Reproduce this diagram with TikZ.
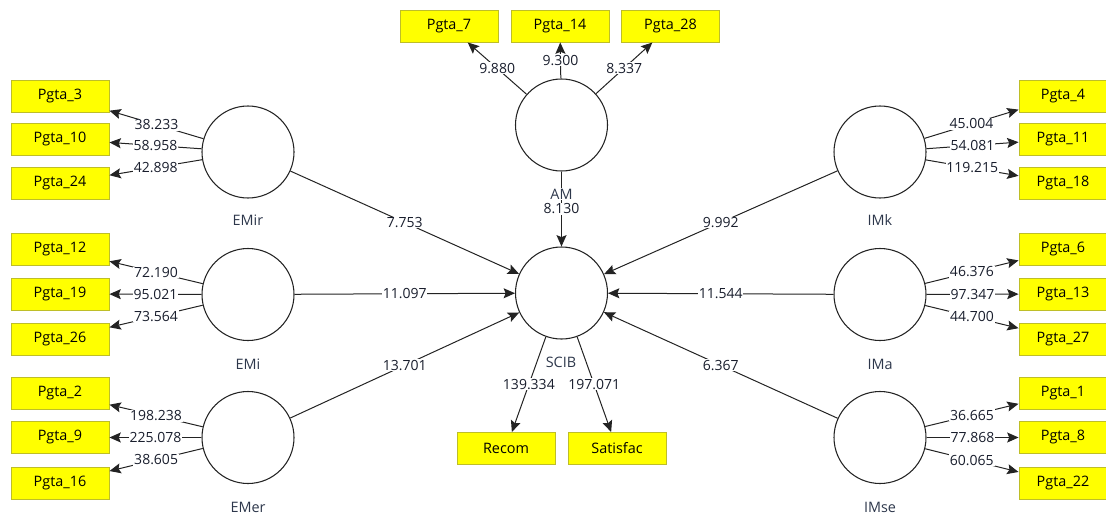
\documentclass[tikz,border=0pt]{standalone}
\usepackage{fontspec}
\setmainfont{Open Sans}
\usetikzlibrary{arrows.meta}
\definecolor{boxfill}{RGB}{255,255,0}
\definecolor{boxline}{RGB}{190,190,40}
\definecolor{edgecol}{RGB}{35,35,35}
\definecolor{numcol}{RGB}{25,30,45}
\definecolor{namecol}{RGB}{45,55,75}
\tikzset{
  lv/.style={circle, draw=edgecol, line width=0.8pt, fill=white, minimum size=69pt, inner sep=0pt},
  ind/.style={rectangle, draw=boxline, line width=0.7pt, fill=boxfill, minimum width=73.5pt, minimum height=24pt, inner sep=0pt, font=\fontsize{10.8}{12}\selectfont},
  indr/.style={ind, minimum width=66pt},
  arr/.style={draw=edgecol, line width=0.75pt, -{Stealth[length=8.5pt,width=7.5pt,inset=1.5pt]}},
  lab/.style={fill=white, inner sep=0.6pt, text=numcol, font=\fontsize{10.5}{11}\selectfont},
  nm/.style={text=namecol, inner sep=0.6pt, font=\fontsize{10.8}{12}\selectfont}
}
\begin{document}
\begin{tikzpicture}[x=0.75pt, y=-0.75pt]
\useasboundingbox (0,0) rectangle (1106,514);
% latent variables
\node[lv] (EMir) at (248,152) {};
\node[lv] (EMi) at (248,294.5) {};
\node[lv] (EMer) at (248,437.5) {};
\node[lv] (AM) at (561.5,125) {};
\node[lv] (SCIB) at (561.5,293) {};
\node[lv] (IMk) at (880,152) {};
\node[lv] (IMa) at (880,294.5) {};
\node[lv] (IMse) at (880,437.5) {};
% indicators left
\node[ind] (p3) at (60,96) {Pgta\_3};
\node[ind] (p10) at (60,139) {Pgta\_10};
\node[ind] (p24) at (60,183.5) {Pgta\_24};
\node[ind] (p12) at (60,249.5) {Pgta\_12};
\node[ind] (p19) at (60,294) {Pgta\_19};
\node[ind] (p26) at (60,339) {Pgta\_26};
\node[ind] (p2) at (60,393) {Pgta\_2};
\node[ind] (p9) at (60,437.5) {Pgta\_9};
\node[ind] (p16) at (60,483) {Pgta\_16};
% top
\node[ind] (p7) at (449,26) {Pgta\_7};
\node[ind] (p14) at (560,26) {Pgta\_14};
\node[ind] (p28) at (670.5,26) {Pgta\_28};
% bottom
\node[ind] (rec) at (506,448.5) {Recom};
\node[ind] (sat) at (617,448.5) {Satisfac};
% right
\node[indr] (p4) at (1063,96) {Pgta\_4};
\node[indr] (p11) at (1063,139) {Pgta\_11};
\node[indr] (p18) at (1063,183.5) {Pgta\_18};
\node[indr] (p6) at (1063,249.5) {Pgta\_6};
\node[indr] (p13) at (1063,294) {Pgta\_13};
\node[indr] (p27) at (1063,339) {Pgta\_27};
\node[indr] (p1) at (1063,393) {Pgta\_1};
\node[indr] (p8) at (1063,437.5) {Pgta\_8};
\node[indr] (p22) at (1063,483) {Pgta\_22};
% outer loadings
\draw[arr] (EMir) -- node[lab]{38.233} (p3);
\draw[arr] (EMir) -- node[lab]{58.958} (p10);
\draw[arr] (EMir) -- node[lab]{42.898} (p24);
\draw[arr] (EMi) -- node[lab]{72.190} (p12);
\draw[arr] (EMi) -- node[lab]{95.021} (p19);
\draw[arr] (EMi) -- node[lab]{73.564} (p26);
\draw[arr] (EMer) -- node[lab]{198.238} (p2);
\draw[arr] (EMer) -- node[lab]{225.078} (p9);
\draw[arr] (EMer) -- node[lab]{38.605} (p16);
\draw[arr] (AM) -- node[lab]{9.880} (p7);
\draw[arr] (AM) -- node[lab]{9.300} (p14);
\draw[arr] (AM) -- node[lab]{8.337} (p28);
\draw[arr] (IMk) -- node[lab]{45.004} (p4);
\draw[arr] (IMk) -- node[lab]{54.081} (p11);
\draw[arr] (IMk) -- node[lab]{119.215} (p18);
\draw[arr] (IMa) -- node[lab]{46.376} (p6);
\draw[arr] (IMa) -- node[lab]{97.347} (p13);
\draw[arr] (IMa) -- node[lab]{44.700} (p27);
\draw[arr] (IMse) -- node[lab]{36.665} (p1);
\draw[arr] (IMse) -- node[lab]{77.868} (p8);
\draw[arr] (IMse) -- node[lab]{60.065} (p22);
\draw[arr] (SCIB) -- node[lab]{139.334} (rec);
\draw[arr] (SCIB) -- node[lab]{197.071} (sat);
% inner paths
\draw[arr] (EMir) -- node[lab]{7.753} (SCIB);
\draw[arr] (EMi) -- node[lab]{11.097} (SCIB);
\draw[arr] (EMer) -- node[lab]{13.701} (SCIB);
\draw[arr] (AM) -- node[lab, pos=0.5]{8.130} (SCIB);
\draw[arr] (IMk) -- node[lab]{9.992} (SCIB);
\draw[arr] (IMa) -- node[lab]{11.544} (SCIB);
\draw[arr] (IMse) -- node[lab]{6.367} (SCIB);
% names
\node[nm] (nEMir) at (248,220) {EMir};
\node[nm] (nEMi) at (248,364) {EMi};
\node[nm] (nEMer) at (248,507) {EMer};
\node[nm] (nIMk) at (880,220) {IMk};
\node[nm] (nIMa) at (880,364) {IMa};
\node[nm] (nIMse) at (880,507) {IMse};
\node[nm] (nSCIB) at (561,362) {SCIB};
\node[nm, fill=white] (nAM) at (561.5,194) {AM};
\end{tikzpicture}
\end{document}
